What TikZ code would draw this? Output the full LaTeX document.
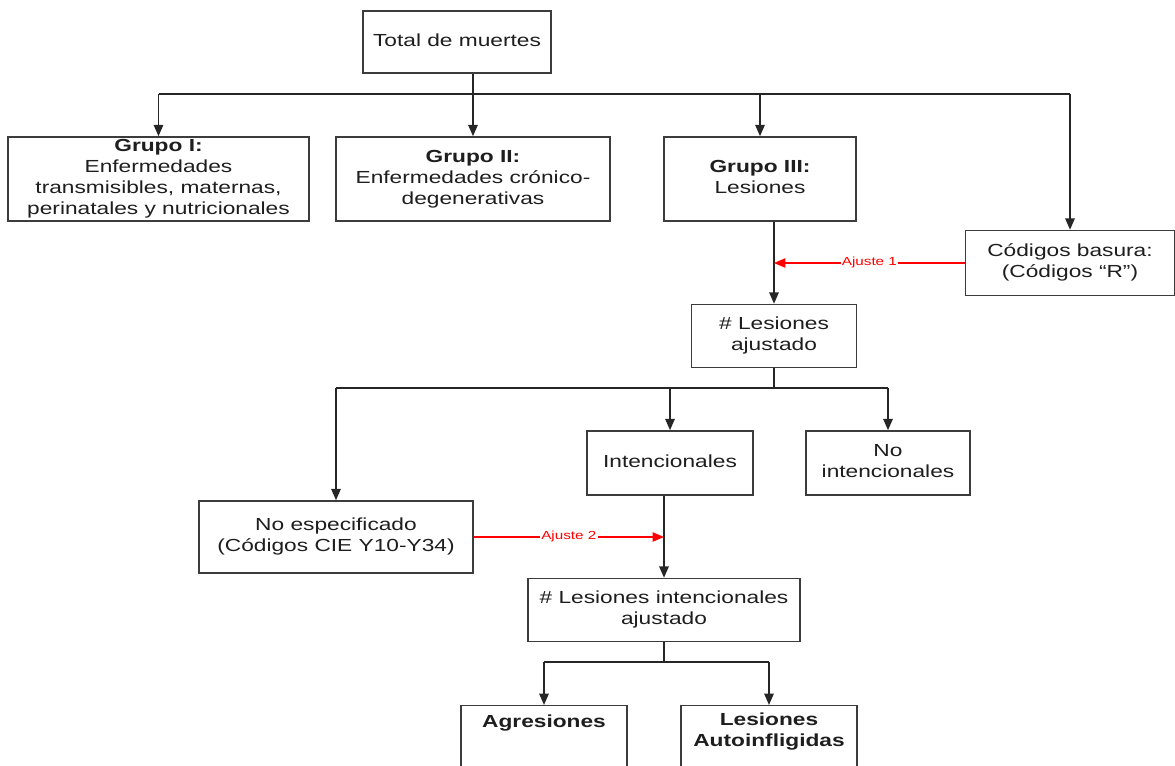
\documentclass[tikz,border=0pt]{standalone}
\usepackage{fontspec}
\setmainfont{Liberation Sans}
\usepackage{graphicx}
\usetikzlibrary{arrows.meta,positioning}
\definecolor{boxgray}{RGB}{60, 60, 60}
\definecolor{textgray}{RGB}{30, 30, 30}
\definecolor{ajustered}{RGB}{255, 0, 0}
% wide Arial-like text, as in the source drawing
\newcommand{\wide}[2][c]{\scalebox{1.3}[1]{\begin{tabular}[#1]{@{}c@{}}#2\end{tabular}}}
\tikzset{
  caja/.style={draw=boxgray, line width=1.1pt, fill=white, inner sep=0pt,
    text=textgray, font=\fontsize{13.1}{15.75}\selectfont},
  linea/.style={line width=1.35pt, draw=black!85},
  flecha/.style={linea, -{Triangle[length=8.5pt,width=7pt]}},
  ajuste/.style={flecha, line width=0.8pt, draw=ajustered},
  rotulo/.style={fill=white, text=ajustered, inner sep=1pt,
    font=\fontsize{8.8}{10}\selectfont}
}

\begin{document}
\begin{tikzpicture}[x=0.75pt, y=-0.75pt]
\clip (0,0) rectangle (1175,765);

% nodes
\node[caja, minimum width=141pt, minimum height=46.5pt] (tot) at (457,42) {\wide{Total de muertes}};
\node[caja, minimum width=225.75pt, minimum height=63pt] (g1) at (158.5,179)
  {\wide{\textbf{Grupo I:}\\Enfermedades\\transmisibles, maternas,\\perinatales y nutricionales}};
\node[caja, minimum width=205.5pt, minimum height=63pt] (g2) at (473,179)
  {\wide{\textbf{Grupo II:}\\Enfermedades crónico-\\degenerativas}};
\node[caja, minimum width=144pt, minimum height=63pt] (g3) at (760,179)
  {\wide{\textbf{Grupo III:}\\Lesiones}};
\node[caja, minimum width=156.75pt, minimum height=48.75pt] (cod) at (1070,263)
  {\wide{Códigos basura:\\(Códigos “R”)}};
\node[caja, minimum width=123.75pt, minimum height=47.25pt] (les) at (774,336)
  {\wide{\# Lesiones\\ajustado}};
\node[caja, minimum width=124.5pt, minimum height=48pt] (int) at (670,463)
  {\wide{Intencionales}};
\node[caja, minimum width=123pt, minimum height=48pt] (noint) at (888,463)
  {\wide{No\\intencionales}};
\node[caja, minimum width=205.5pt, minimum height=54pt] (noesp) at (336,537)
  {\wide{No especificado\\(Códigos CIE Y10-Y34)}};
\node[caja, minimum width=204pt, minimum height=47.25pt] (lint) at (664,610)
  {\wide{\# Lesiones intencionales\\ajustado}};
\node[caja, anchor=north, minimum width=124.5pt, text height=16.5pt, text depth=80pt] (agr) at (544,705)
  {\wide[t]{\textbf{Agresiones}}};
\node[caja, anchor=north, minimum width=132pt, text height=15pt, text depth=80pt] (aut) at (769,705)
  {\wide[t]{\textbf{Lesiones}\\\textbf{Autoinfligidas}}};

% buses
\coordinate (bus1) at (0,94);
\coordinate (bus2) at (0,388);
\coordinate (bus3) at (0,662);

% connectors
\draw[flecha] (tot.south -| g2.north) -- (g2.north);
\draw[linea] (bus1 -| g1.north) -- (bus1 -| cod.north);
\foreach \n in {g1,g3,cod}
  \draw[flecha] (bus1 -| \n.north) -- (\n.north);

\draw[flecha] (les.north |- g3.south) -- (les.north);
\draw[ajuste] (cod.west) -- node[rotulo] {\wide{Ajuste 1}} (cod.west -| les.north);

\draw[linea] (les.south) -- (les.south |- bus2);
\draw[linea] (bus2 -| noesp.north) -- (bus2 -| noint.north);
\foreach \n in {noesp,int,noint}
  \draw[flecha] (bus2 -| \n.north) -- (\n.north);

\draw[flecha] (lint.north |- int.south) -- (lint.north);
\draw[ajuste] (noesp.east) -- node[rotulo] {\wide{Ajuste 2}} (noesp.east -| lint.north);

\draw[linea] (lint.south) -- (lint.south |- bus3);
\draw[linea] (bus3 -| agr.north) -- (bus3 -| aut.north);
\foreach \n in {agr,aut}
  \draw[flecha] (bus3 -| \n.north) -- (\n.north);
\end{tikzpicture}
\end{document}
